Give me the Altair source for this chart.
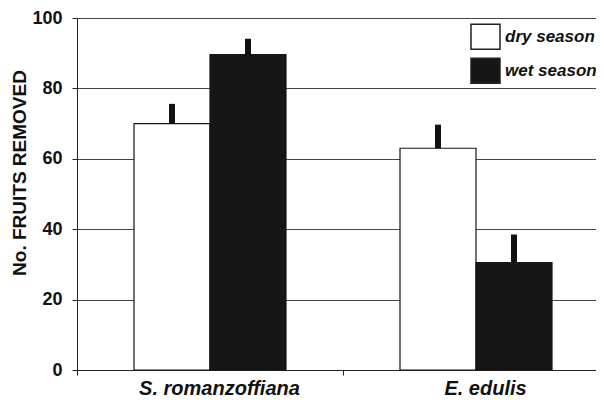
import altair as alt
import pandas as pd

species = ["S. romanzoffiana", "E. edulis"]
seasons = ["dry season", "wet season"]
dry_means = [70.0, 63.0]
dry_err_top = [75.6, 69.7]
wet_means = [89.6, 30.5]
wet_err_top = [94.1, 38.5]
y_ticks = [0, 20, 40, 60, 80, 100]

rows = []
for i, sp in enumerate(species):
    rows.append({"species": sp, "season": seasons[0], "mean": dry_means[i], "top": dry_err_top[i]})
    rows.append({"species": sp, "season": seasons[1], "mean": wet_means[i], "top": wet_err_top[i]})
df = pd.DataFrame(rows)

x_enc = alt.X(
    "species:N",
    sort=species,
    title=None,
    scale=alt.Scale(paddingInner=0, paddingOuter=0, range=[0, 532]),
    axis=alt.Axis(
        tickBand="extent",
        tickSize=5,
        tickColor="#222",
        domainColor="#222",
        labelFont="Liberation Sans",
        labelFontSize=20,
        labelFontWeight="bold",
        labelFontStyle="italic",
        labelColor="#111",
        labelPadding=3,
        labelOffset=9,
        labelAngle=0,
        grid=False,
    ),
)
xoff = alt.XOffset("season:N", sort=seasons, scale=alt.Scale(paddingInner=0, paddingOuter=0.75))

y_axis = alt.Axis(
    values=y_ticks,
    tickSize=5,
    tickColor="#222",
    domainColor="#222",
    gridColor="#444",
    gridWidth=1,
    labelFont="Liberation Sans",
    labelFontSize=18,
    labelFontWeight="bold",
    labelColor="#111",
    labelPadding=10,
    title="No. FRUITS REMOVED",
    titleFont="Liberation Sans",
    titleFontSize=19,
    titleFontWeight="bold",
    titleColor="#111",
    titleAngle=270,
    titleBaseline="middle",
    titleAlign="center",
    titleX=-58,
    titleY=154.5,
)

bars = alt.Chart(df).mark_bar(stroke="#151515", strokeWidth=1.2).encode(
    x=x_enc,
    xOffset=xoff,
    y=alt.Y("mean:Q", scale=alt.Scale(domain=[0, 100], nice=False), axis=y_axis),
    fill=alt.Fill(
        "season:N",
        sort=seasons,
        scale=alt.Scale(domain=seasons, range=["#ffffff", "#161616"]),
        legend=alt.Legend(
            title=None,
            orient="none",
            legendX=393,
            legendY=3.3,
            symbolType="M-1,-0.862L1,-0.862L1,0.862L-1,0.862Z",
            symbolSize=841,
            symbolStrokeColor="#222",
            symbolStrokeWidth=1.5,
            rowPadding=3,
            labelFont="Liberation Sans",
            labelFontSize=17,
            labelFontWeight="bold",
            labelFontStyle="italic",
            labelColor="#111",
            labelOffset=4,
            padding=0,
        ),
    ),
)

errs = alt.Chart(df).mark_bar(size=6, color="#111").encode(
    x=alt.X("species:N", sort=species),
    xOffset=alt.XOffset("season:N", sort=seasons),
    y="mean:Q",
    y2="top:Q",
)

chart = (
    alt.layer(bars, errs)
    .properties(
        width=519,
        height=352,
        padding={"left": 69, "top": 10, "right": 0, "bottom": 27},
        autosize=alt.AutoSizeParams(type="none"),
    )
    .configure_view(stroke=None)
    .configure(background="white")
)

chart.save("out.html", embed_options={"renderer": "svg", "actions": False})
